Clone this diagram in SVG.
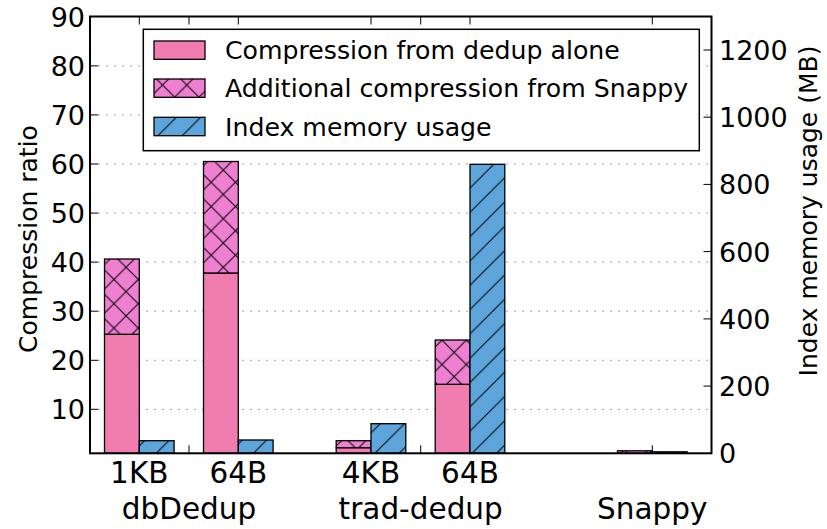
<svg xmlns="http://www.w3.org/2000/svg" width="827" height="529" viewBox="0 0 827 529">
  <style>
    text { font-family: "DejaVu Sans", "Liberation Sans", sans-serif; fill: #000; }
    .tick { font-size: 27px; }
    .xl { font-size: 29.5px; text-anchor: middle; }
    .axl { font-size: 25px; text-anchor: middle; }
    .leg { font-size: 25.2px; }
    .grid { stroke: #a0a0a0; stroke-width: 1; stroke-dasharray: 2 6; fill: none; }
    .tk { stroke: #000; stroke-width: 1; fill: none; }
    .bar { stroke: #000; stroke-width: 1.3; }
    .solid { fill: #F17CB0; }
    .xh { fill: url(#hatch-cross); }
    .dh { fill: url(#hatch-diag); }
  </style>
  <defs>
    <pattern id="hatch-diag" patternUnits="userSpaceOnUse" x="2" y="0" width="24.3" height="24.3">
      <rect width="24.3" height="24.3" fill="#5DA5DA"/>
      <path d="M-6,6 L6,-6 M0,24.3 L24.3,0 M18.3,30.3 L30.3,18.3" stroke="#000" stroke-width="1"/>
    </pattern>
    <pattern id="hatch-cross" patternUnits="userSpaceOnUse" x="4.6" y="0" width="24.3" height="24.3">
      <rect width="24.3" height="24.3" fill="#EF7FD0"/>
      <path d="M-6,6 L6,-6 M0,24.3 L24.3,0 M18.3,30.3 L30.3,18.3 M-6,18.3 L6,30.3 M0,0 L24.3,24.3 M18.3,-6 L30.3,6" stroke="#000" stroke-width="1"/>
    </pattern>
  </defs>

  <rect width="827" height="529" fill="#fff"/>

  <!-- horizontal grid for the compression-ratio axis -->
  <g id="grid">
    <line class="grid" x1="90" y1="409.3" x2="711.5" y2="409.3"/>
    <line class="grid" x1="90" y1="360.3" x2="711.5" y2="360.3"/>
    <line class="grid" x1="90" y1="311.2" x2="711.5" y2="311.2"/>
    <line class="grid" x1="90" y1="262.1" x2="711.5" y2="262.1"/>
    <line class="grid" x1="90" y1="213.1" x2="711.5" y2="213.1"/>
    <line class="grid" x1="90" y1="164" x2="711.5" y2="164"/>
    <line class="grid" x1="90" y1="114.9" x2="711.5" y2="114.9"/>
    <line class="grid" x1="90" y1="65.9" x2="711.5" y2="65.9"/>
  </g>

  <!-- tick marks -->
  <g id="ticks">
    <path class="tk" d="M90,409.3h8 M90,360.3h8 M90,311.2h8 M90,262.1h8 M90,213.1h8 M90,164h8 M90,114.9h8 M90,65.9h8"/>
    <path class="tk" d="M711.5,386.1h-8 M711.5,318.9h-8 M711.5,251.6h-8 M711.5,184.4h-8 M711.5,117.2h-8 M711.5,50h-8"/>
    <path class="tk" d="M139.3,16.5v8 M189,16.5v8 M238.3,16.5v8 M371,16.5v8 M420.7,16.5v8 M470,16.5v8 M652.3,16.5v8"/>
    <path class="tk" d="M139.3,453.3v-8 M189,453.3v-8 M238.3,453.3v-8 M371,453.3v-8 M420.7,453.3v-8 M470,453.3v-8 M652.3,453.3v-8"/>
  </g>

  <!-- bars: dbDedup 1KB -->
  <g id="dbdedup-1kb">
    <rect class="bar solid" x="104.5" y="334.3" width="34.8" height="119"/>
    <rect class="bar xh" x="104.5" y="259" width="34.8" height="75.3"/>
    <rect class="bar dh" x="139.3" y="440.7" width="34.8" height="12.6"/>
  </g>
  <!-- bars: dbDedup 64B -->
  <g id="dbdedup-64b">
    <rect class="bar solid" x="203.5" y="273" width="34.8" height="180.3"/>
    <rect class="bar xh" x="203.5" y="161.5" width="34.8" height="111.5"/>
    <rect class="bar dh" x="238.3" y="440" width="34.8" height="13.3"/>
  </g>
  <!-- bars: trad-dedup 4KB -->
  <g id="trad-4kb">
    <rect class="bar solid" x="336.2" y="447.7" width="34.8" height="5.6"/>
    <rect class="bar xh" x="336.2" y="440.7" width="34.8" height="7"/>
    <rect class="bar dh" x="371" y="423.7" width="34.8" height="29.6"/>
  </g>
  <!-- bars: trad-dedup 64B -->
  <g id="trad-64b">
    <rect class="bar solid" x="435.2" y="384.3" width="34.8" height="69"/>
    <rect class="bar xh" x="435.2" y="340" width="34.8" height="44.3"/>
    <rect class="bar dh" x="470" y="164.3" width="34.8" height="289"/>
  </g>
  <!-- bars: Snappy -->
  <g id="snappy">
    <rect class="bar xh" x="617.5" y="450.8" width="34.8" height="2.5"/>
    <rect class="bar dh" x="652.3" y="451.8" width="34.8" height="1.5"/>
  </g>

  <!-- plot frame -->
  <rect id="frame" x="90" y="16.5" width="621.5" height="436.8" fill="none" stroke="#000" stroke-width="2"/>

  <!-- left axis labels -->
  <g id="left-axis" class="tick" text-anchor="end">
    <text x="85" y="419.3">10</text>
    <text x="85" y="370.3">20</text>
    <text x="85" y="321.2">30</text>
    <text x="85" y="272.1">40</text>
    <text x="85" y="223.1">50</text>
    <text x="85" y="174">60</text>
    <text x="85" y="124.9">70</text>
    <text x="85" y="75.9">80</text>
    <text x="85" y="26.8">90</text>
  </g>
  <text class="axl" transform="translate(37,239) rotate(-90)">Compression ratio</text>

  <!-- right axis labels -->
  <g id="right-axis" class="tick">
    <text x="719" y="463.3">0</text>
    <text x="719" y="396.1">200</text>
    <text x="719" y="328.9">400</text>
    <text x="719" y="261.6">600</text>
    <text x="719" y="194.4">800</text>
    <text x="719" y="127.2">1000</text>
    <text x="719" y="60">1200</text>
  </g>
  <text class="axl" transform="translate(817,211) rotate(-90)">Index memory usage (MB)</text>

  <!-- category labels -->
  <g id="x-axis" class="xl">
    <text x="139.3" y="483.3">1KB</text>
    <text x="238.3" y="483.3">64B</text>
    <text x="371" y="483.3">4KB</text>
    <text x="470" y="483.3">64B</text>
    <text x="189" y="519.3">dbDedup</text>
    <text x="420.7" y="519.3">trad-dedup</text>
    <text x="652.3" y="519.3">Snappy</text>
  </g>

  <!-- legend -->
  <g id="legend">
    <rect x="143.3" y="29.3" width="556" height="121.4" fill="#fff" stroke="#000" stroke-width="1.5"/>
    <rect class="bar solid" x="154" y="41" width="51" height="18.3"/>
    <rect class="bar xh" x="154" y="79" width="51" height="18.3"/>
    <rect class="bar dh" x="154" y="117.3" width="51" height="18.4"/>
    <text class="leg" x="225" y="59.3">Compression from dedup alone</text>
    <text class="leg" x="225" y="97.3">Additional compression from Snappy</text>
    <text class="leg" x="225" y="135.7">Index memory usage</text>
  </g>
</svg>
